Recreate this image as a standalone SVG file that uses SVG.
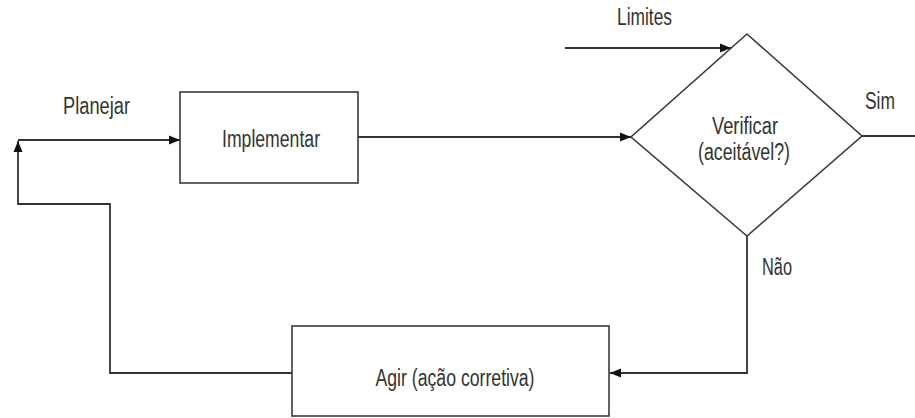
<svg xmlns="http://www.w3.org/2000/svg" width="915" height="418" viewBox="0 0 915 418">
<style>
.box{fill:#fff;stroke:#3a3a3a;stroke-width:1.6}
.ln{fill:none;stroke:#333;stroke-width:1.8}
.t{font-family:"Liberation Sans",Arial,sans-serif;font-size:23px;fill:#333;text-anchor:middle}
.tl{font-family:"Liberation Sans",Arial,sans-serif;font-size:23px;fill:#333}
</style>
<defs>
<marker id="ah" markerUnits="userSpaceOnUse" markerWidth="12" markerHeight="10" refX="11" refY="5" orient="auto">
<path d="M0,0.5 L11,5 L0,9.5 z" fill="#111"/>
</marker>
</defs>
<rect width="915" height="418" fill="#fff"/>
<g id="connectors">
<line class="ln" x1="18" y1="140" x2="180" y2="140" marker-end="url(#ah)"/>
<polyline class="ln" points="292,373 110,373 110,204 18,204 18,141" marker-end="url(#ah)"/>
<line class="ln" x1="358" y1="137" x2="631" y2="137" marker-end="url(#ah)"/>
<line class="ln" x1="565" y1="48" x2="731" y2="48" marker-end="url(#ah)"/>
<line class="ln" x1="862" y1="136" x2="915" y2="136"/>
<polyline class="ln" points="747,236 747,373 610,373" marker-end="url(#ah)"/>
</g>
<g id="implementar">
<rect class="box" x="180" y="92" width="178" height="91"/>
<text class="t" x="271" y="147" textLength="98" lengthAdjust="spacingAndGlyphs">Implementar</text>
</g>
<g id="verificar">
<polygon class="box" points="747,34 862,136 747,236 631,137"/>
<text class="t" x="745" y="134" textLength="66" lengthAdjust="spacingAndGlyphs">Verificar</text>
<text class="t" x="744" y="160" textLength="92" lengthAdjust="spacingAndGlyphs">(aceitável?)</text>
</g>
<g id="agir">
<rect class="box" x="292" y="326" width="317" height="90"/>
<text class="t" x="455" y="386" textLength="159" lengthAdjust="spacingAndGlyphs">Agir (ação corretiva)</text>
</g>
<g id="labels">
<text class="tl" x="63" y="114" textLength="67" lengthAdjust="spacingAndGlyphs">Planejar</text>
<text class="tl" x="617" y="25" textLength="55" lengthAdjust="spacingAndGlyphs">Limites</text>
<text class="tl" x="865" y="109" textLength="30" lengthAdjust="spacingAndGlyphs">Sim</text>
<text class="tl" x="762" y="275" textLength="30" lengthAdjust="spacingAndGlyphs">Não</text>
</g>
</svg>
